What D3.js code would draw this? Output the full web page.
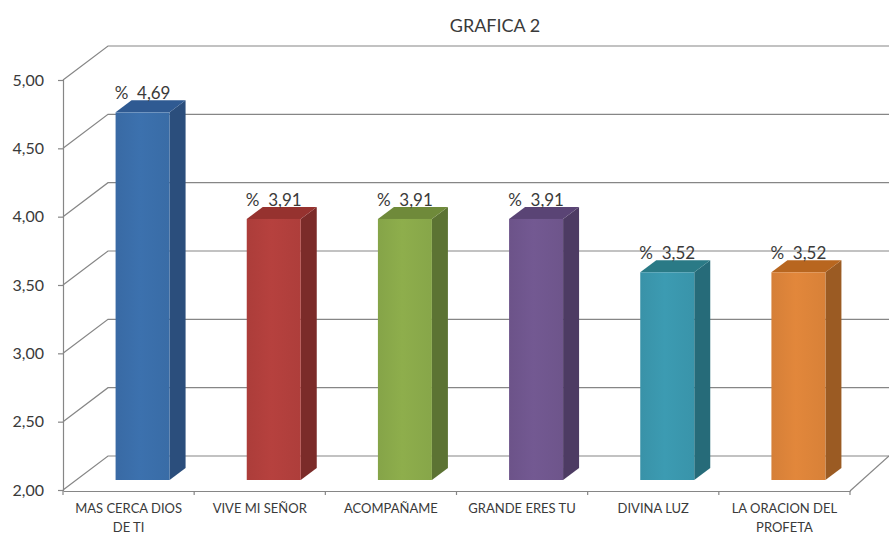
<!DOCTYPE html>
<html>
<head>
<meta charset="utf-8">
<title>GRAFICA 2</title>
<script src="https://cdn.jsdelivr.net/npm/d3@7"></script>
<style>
	html, body { margin: 0; padding: 0; background: #fff; }
	svg { display: block; }
	text { font-family: Lato, sans-serif; fill: #3a3a3a; }
</style>
</head>
<body>
<svg id="chart" width="889" height="535"></svg>
<script>
var categories = ["MAS CERCA DIOS DE TI", "VIVE MI SEÑOR", "ACOMPAÑAME", "GRANDE ERES TU", "DIVINA LUZ", "LA ORACION DEL PROFETA"];
var values = [4.69, 3.91, 3.91, 3.91, 3.52, 3.52];
var yTicks = [2, 2.5, 3, 3.5, 4, 4.5, 5];
var titleText = "GRAFICA 2";
var frontColors = ["#3b6fab", "#b3403d", "#8bab4b", "#71578f", "#3b98af", "#de853a"];
var sideColors = ["#2b4e7c", "#7b2b29", "#5c7333", "#4d3b63", "#266b79", "#9b5b23"];
var topColors = ["#2f5a92", "#96322f", "#6f8a3a", "#5a4475", "#2a7a86", "#b8661f"];

var svg = d3.select("#chart");
var gridColor = "#868686";

// front plane of the box
var x = d3.scaleBand().domain(categories).range([63, 850]);
var y = d3.scaleLinear().domain([2, 5]).range([490, 80]);

// 3d offsets
var wallDx = 45, wallDy = -34; // back wall
var barShiftX = 14, barShiftY = -10; // where the bars stand on the floor
var barWidth = 54, depthX = 16, depthY = -12;

svg.append("text")
	.attr("x", 495)
	.attr("y", 32)
	.attr("text-anchor", "middle")
	.style("font-size", "18px")
	.text(titleText);

// wall lines: diagonal on the side, then straight to the edge of the picture
var grid = svg.append("g").attr("fill", "none").attr("stroke", gridColor).attr("stroke-width", 1.2);
yTicks.forEach(function(t) {
	grid.append("path")
		.attr("d", d3.line()([[x.range()[0], y(t)], [x.range()[0] + wallDx, y(t) + wallDy], [889, y(t) + wallDy]]));
});
// floor, right side
grid.append("path")
	.attr("d", d3.line()([[x.range()[1], y(2) + 1], [889, y(2) + wallDy]]));

// gradients for the front faces
var defs = svg.append("defs");
frontColors.forEach(function(c, i) {
	var grad = defs.append("linearGradient").attr("id", "front" + i);
	grad.append("stop").attr("offset", "0%").attr("stop-color", d3.color(c).darker(0.12));
	grad.append("stop").attr("offset", "45%").attr("stop-color", d3.color(c).brighter(0.05));
	grad.append("stop").attr("offset", "100%").attr("stop-color", d3.color(c).darker(0.08));
});

// bars
var bars = svg.append("g").selectAll("g")
	.data(categories)
	.enter().append("g");

bars.each(function(d, i) {
	var g = d3.select(this);
	var left = x(d) + (x.bandwidth() - barWidth) / 2 + barShiftX;
	var right = left + barWidth;
	var top = y(values[i]) + barShiftY;
	var bottom = y(2) + barShiftY;

	g.append("polygon")
		.attr("fill", sideColors[i])
		.attr("points", [[right, top], [right + depthX, top + depthY], [right + depthX, bottom + depthY], [right, bottom]].join(" "));
	g.append("polygon")
		.attr("fill", topColors[i])
		.attr("points", [[left, top], [left + depthX, top + depthY], [right + depthX, top + depthY], [right, top]].join(" "));
	g.append("rect")
		.attr("x", left)
		.attr("y", top)
		.attr("width", barWidth)
		.attr("height", bottom - top)
		.attr("fill", "url(#front" + i + ")");

	g.append("text")
		.attr("x", left + barWidth / 2)
		.attr("y", top - 13)
		.attr("text-anchor", "middle")
		.style("font-size", "17px")
		.style("white-space", "pre")
		.text("%  " + d3.format(".2f")(values[i]).replace(".", ","));
});

// axes
var yAxis = d3.axisLeft(y)
	.tickValues(yTicks)
	.tickSize(5)
	.tickPadding(14)
	.tickFormat(function(t) { return d3.format(".2f")(t).replace(".", ","); });
var yG = svg.append("g").attr("transform", "translate(63,0)").call(yAxis);
yG.selectAll("text").style("font-size", "16px");

var xAxis = d3.axisBottom(x).tickSize(0).tickPadding(13);
var xG = svg.append("g").attr("transform", "translate(0,491)").call(xAxis);
xG.selectAll("text").style("font-size", "13px").call(wrap, 118);

// ticks between the categories, d3 puts them in the middle of the band
xG.selectAll(".between")
	.data(d3.range(categories.length + 1))
	.enter().append("line")
	.attr("class", "between")
	.attr("x1", function(i) { return x.range()[0] + i * x.step(); })
	.attr("x2", function(i) { return x.range()[0] + i * x.step(); })
	.attr("y1", 0)
	.attr("y2", 4);

svg.selectAll(".domain, .tick line, .between")
	.attr("stroke", gridColor)
	.attr("stroke-width", 1.2);

function wrap(sel, width) {
	sel.each(function() {
		var text = d3.select(this);
		var words = text.text().split(" ");
		var ty = text.attr("y");
		var line = [];
		var lineNo = 0;
		var tspan = text.text(null).append("tspan").attr("x", 0).attr("y", ty).attr("dy", "0.71em");
		words.forEach(function(w) {
			line.push(w);
			tspan.text(line.join(" "));
			if (tspan.node().getComputedTextLength() > width && line.length > 1) {
				line.pop();
				tspan.text(line.join(" "));
				line = [w];
				lineNo++;
				tspan = text.append("tspan").attr("x", 0).attr("y", ty).attr("dy", (lineNo * 19 + 9) + "px").text(w);
			}
		});
	});
}
</script>
</body>
</html>
